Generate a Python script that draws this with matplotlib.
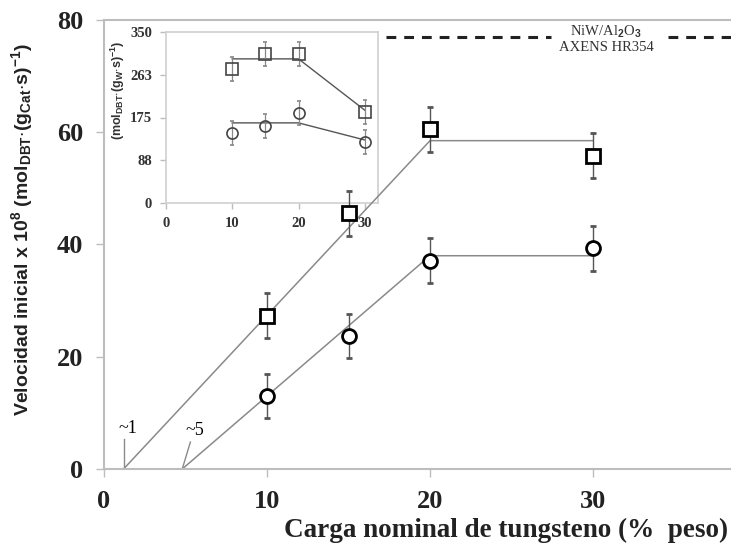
import numpy as np
import matplotlib.pyplot as plt

# main panel data
carga = [10, 15, 20, 30]
vel_sq = [27.3, 45.6, 60.5, 55.8]
vel_ci = [13.0, 23.7, 37.1, 39.3]
err_sq = [4, 4, 4, 4]
err_ci = [4, 4, 4, 4]
# trend lines (x, y)
trend_sq_x = [1.2, 20, 30]
trend_sq_y = [0, 58.5, 58.5]
trend_ci_x = [4.8, 20, 30]
trend_ci_y = [0, 38.0, 38.0]
ref_level = 77.0

# inset data (per gram of W)
vel_w_sq = [274, 305, 305, 186]
vel_w_ci = [143, 158, 184, 125]
err_w = [25, 25, 25, 25]
trend_w_sq_x = [10, 20, 30]
trend_w_sq_y = [295, 295, 190]
trend_w_ci_x = [10, 20, 30]
trend_w_ci_y = [164, 164, 129]

plt.rcParams['mathtext.fontset'] = 'custom'
plt.rcParams['mathtext.rm'] = 'Liberation Sans:bold'
plt.rcParams['mathtext.it'] = 'Liberation Sans:bold'
plt.rcParams['mathtext.bf'] = 'Liberation Sans:bold'

W, H = 731, 546
fig = plt.figure(figsize=(W / 100, H / 100), dpi=100)
serif = 'Liberation Serif'
grey = '#bdbdbd'
line_c = '#8a8a8a'

ax = fig.add_axes([104 / W, 1 - 469 / H, (745 - 104) / W, (469 - 20) / H], zorder=2)
ax.patch.set_alpha(0)
ax.set_xlim(0, (745 - 104) / 16.3)
ax.set_ylim(0, 80)
ax.set_xticks([0, 10, 20, 30])
ax.set_yticks([0, 20, 40, 60, 80])
for s in ['left', 'bottom', 'top']:
    ax.spines[s].set_color(grey)
    ax.spines[s].set_linewidth(1.5)
ax.spines['right'].set_visible(False)
ax.tick_params(direction='out', length=6, color=grey, width=1, pad=9)
for lab in ax.get_xticklabels() + ax.get_yticklabels():
    lab.set_fontfamily(serif)
    lab.set_fontweight('bold')
    lab.set_fontsize(19)
    lab.set_color('#222222')

ax.plot(trend_sq_x, trend_sq_y, color=line_c, lw=1.1, zorder=2)
ax.plot(trend_ci_x, trend_ci_y, color=line_c, lw=1.1, zorder=2)
ax.errorbar(carga, vel_sq, yerr=err_sq, fmt='s', ms=9.5, mfc='white', mec='black',
            mew=2, ecolor='#555555', elinewidth=1, capsize=2.5, zorder=3)
ax.errorbar(carga, vel_ci, yerr=err_ci, fmt='o', ms=10, mfc='white', mec='black',
            mew=2, ecolor='#555555', elinewidth=1, capsize=2.5, zorder=3)

# reference catalyst level
ax.plot([17.3, 27.4], [ref_level, ref_level], ls=(0, (3.2, 2.6)), color='#222222', lw=2.2)
ax.plot([34.6, 38.5], [ref_level, ref_level], ls=(0, (3.2, 2.6)), color='#222222', lw=2.2)
ax.text(30.8, 76.6, 'NiW/Al$_2$O$_3$\nAXENS HR354', ha='center', va='center',
        fontsize=10.5, family=serif, color='#333333', linespacing=1.1)

# intercept annotations
ax.plot([1.2, 1.2], [0, 5.3], color=line_c, lw=1)
ax.text(1.45, 7.3, '~1', fontsize=13, family=serif, ha='center', va='center')
ax.plot([4.8, 5.3], [0, 4.8], color=line_c, lw=1)
ax.text(5.6, 6.8, '~5', fontsize=13, family=serif, ha='center', va='center')

fig.text(728 / W, 1 - 530 / H, 'Carga nominal de tungsteno (%  peso)', fontsize=19.5,
         family=serif, fontweight='bold', color='#222222', ha='right', va='center')
fig.text(22 / W, 1 - 230 / H,
         'Velocidad inicial x 10$^{8}$ (mol$_{\\mathrm{DBT}}$$\\cdot$(g$_{\\mathrm{Cat}}$$\\cdot$s)$^{-1}$)',
         fontsize=14, fontweight='bold', color='#222222', family='Liberation Sans',
         rotation=90, ha='center', va='center')

# inset
axi = fig.add_axes([166 / W, 1 - 203 / H, (378 - 166) / W, (203 - 32) / H], zorder=1)
axi.set_xlim(0, 32)
axi.set_ylim(0, 350)
axi.set_xticks([0, 10, 20, 30])
axi.set_yticks([0, 88, 175, 263, 350])
for s in axi.spines.values():
    s.set_color('#d0d0d0')
    s.set_linewidth(1.2)
axi.tick_params(direction='out', length=4, color=grey, width=1, pad=6)
for lab in axi.get_xticklabels() + axi.get_yticklabels():
    lab.set_fontfamily(serif)
    lab.set_fontweight('bold')
    lab.set_fontsize(10.5)
    lab.set_color('#333333')
axi.plot(trend_w_sq_x, trend_w_sq_y, color='#555555', lw=1, zorder=2)
axi.plot(trend_w_ci_x, trend_w_ci_y, color='#555555', lw=1, zorder=2)
axi.errorbar(carga, vel_w_sq, yerr=err_w, fmt='s', ms=8, mfc='none', mec='#444444',
             mew=1.2, ecolor='#888888', elinewidth=0.9, capsize=1.5, zorder=3)
axi.errorbar(carga, vel_w_ci, yerr=err_w, fmt='o', ms=8, mfc='none', mec='#444444',
             mew=1.2, ecolor='#888888', elinewidth=0.9, capsize=1.5, zorder=3)
fig.text(118 / W, 1 - 90 / H, '(mol$_{\\mathrm{DBT}}$$\\cdot$(g$_{\\mathrm{W}}$$\\cdot$s)$^{-1}$)',
         fontsize=9, fontweight='bold', family='Liberation Sans', color='#333333',
         rotation=90, ha='center', va='center')

fig.savefig('out.png', dpi=100)
